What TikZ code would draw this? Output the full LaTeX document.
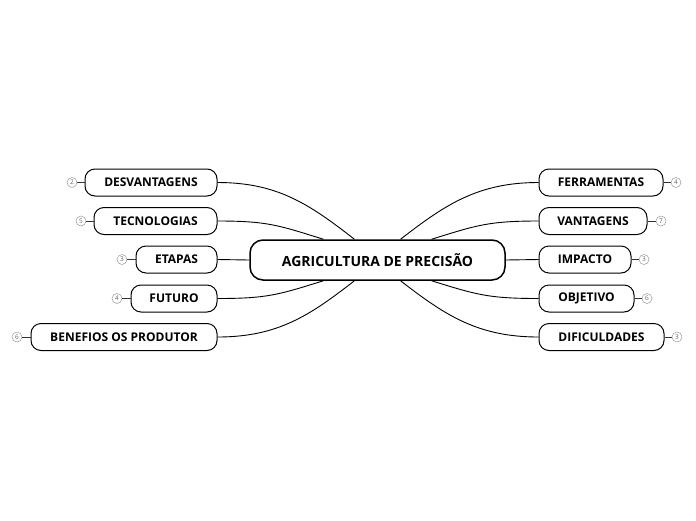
\documentclass[tikz,border=0pt]{standalone}
\usepackage{fontspec}
\setmainfont{Open Sans}[BoldFont={Open Sans Bold}]
\begin{document}
\begin{tikzpicture}[x=1pt,y=-1pt,
    main/.style={draw, line width=1.5pt, rounded corners=13pt, minimum width=255pt, minimum height=40pt, font=\fontsize{14}{16}\selectfont\bfseries},
    topic/.style={draw, line width=1pt, rounded corners=10pt, minimum height=27pt, font=\fontsize{12}{14}\selectfont\bfseries},
    badge/.style={draw=gray!80, circle, line width=0.5pt, minimum size=10pt, inner sep=0pt, text=gray!80!black, font=\fontsize{6.5}{7}\selectfont},
    link/.style={line width=0.9pt},
    tick/.style={draw=black!80, line width=0.6pt}]
      \useasboundingbox (0,0) rectangle (696,520);
      \node[main] (agri) at (377.5,260) {AGRICULTURA DE PRECISÃO};
      % left side
      \node[topic, minimum width=132pt] (desv) at (151,182.5) {DESVANTAGENS};
      \node[topic, minimum width=123pt] (tecn) at (155.5,221) {TECNOLOGIAS};
      \node[topic, minimum width=81pt] (etap) at (176.5,259.5) {ETAPAS};
      \node[topic, minimum width=86pt] (futu) at (174,298.5) {FUTURO};
      \node[topic, minimum width=186pt] (bene) at (124,337) {BENEFIOS OS PRODUTOR};
      % right side
      \node[topic, minimum width=124pt] (ferr) at (601,182.5) {FERRAMENTAS};
      \node[topic, minimum width=108pt] (vant) at (593,221) {VANTAGENS};
      \node[topic, minimum width=92pt] (impa) at (585,259.5) {IMPACTO};
      \node[topic, minimum width=95pt] (obje) at (586.5,298.5) {OBJETIVO};
      \node[topic, minimum width=125pt] (difi) at (601.5,337) {DIFICULDADES};
      % badges
      \node[badge] (desvn) at (72,182.5) {2};
      \node[badge] (tecnn) at (81,221) {5};
      \node[badge] (etapn) at (122,259.5) {3};
      \node[badge] (futun) at (117,298.5) {4};
      \node[badge] (benen) at (17,337) {6};
      \node[badge] (ferrn) at (676,182.5) {4};
      \node[badge] (vantn) at (661,221) {7};
      \node[badge] (impan) at (644,259.5) {3};
      \node[badge] (objen) at (647,298.5) {6};
      \node[badge] (difin) at (677,337) {3};
      \foreach \t in {desv,tecn,etap,futu,bene}
        \draw[tick] (\t n) -- (\t.west);
      \foreach \t in {ferr,vant,impa,obje,difi}
        \draw[tick] (\t n) -- (\t.east);
      % connectors
      \draw[link] (agri.138) .. controls +(-45,-35) and +(60,0) .. (desv.east);
      \draw[link] (agri.159) .. controls +(-45,-14) and +(50,0) .. (tecn.east);
      \draw[link] (agri.west) -- (etap.east);
      \draw[link] (agri.201) .. controls +(-45,14) and +(50,0) .. (futu.east);
      \draw[link] (agri.222) .. controls +(-45,35) and +(60,0) .. (bene.east);
      \draw[link] (agri.42) .. controls +(45,-35) and +(-60,0) .. (ferr.west);
      \draw[link] (agri.21) .. controls +(45,-14) and +(-50,0) .. (vant.west);
      \draw[link] (agri.east) -- (impa.west);
      \draw[link] (agri.339) .. controls +(45,14) and +(-50,0) .. (obje.west);
      \draw[link] (agri.318) .. controls +(45,35) and +(-60,0) .. (difi.west);
\end{tikzpicture}
\end{document}
